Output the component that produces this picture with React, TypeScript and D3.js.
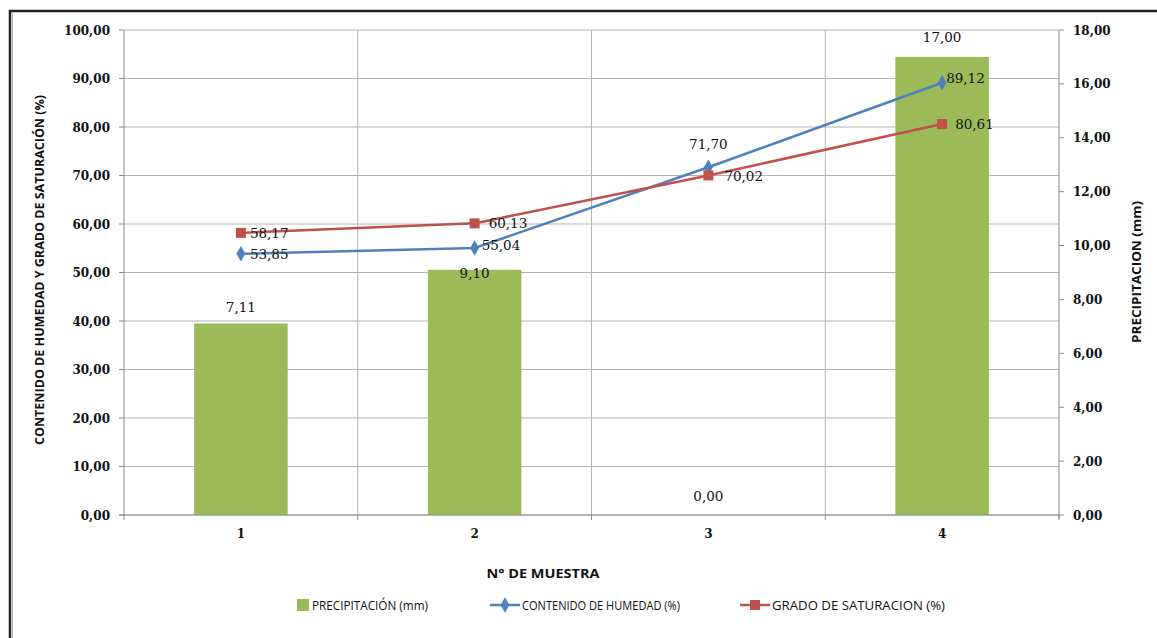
import React from "react";
import * as d3 from "d3";

const categories = ["1", "2", "3", "4"];
const precipitacion = [7.11, 9.1, 0.0, 17.0];
const humedad = [53.85, 55.04, 71.7, 89.12];
const saturacion = [58.17, 60.13, 70.02, 80.61];
const leftTicks = [0, 10, 20, 30, 40, 50, 60, 70, 80, 90, 100];
const rightTicks = [0, 2, 4, 6, 8, 10, 12, 14, 16, 18];

const W = 1157;
const H = 638;
const L = 124;
const R = 1059;
const T = 30;
const B = 515;

const GREEN = "#9BBB59";
const BLUE = "#4F81BD";
const RED = "#C0504D";
const GRID = "#b3b3b3";
const AXIS = "#8c8c8c";
const SERIF = "'DejaVu Serif', 'Liberation Serif', serif";
const SANS = "'Liberation Sans Narrow', 'Open Sans', 'Liberation Sans', sans-serif";

const fmt = (v: number) => v.toFixed(2).replace(".", ",");

export default function App() {
  const x = d3.scaleBand<string>().domain(categories).range([L, R]).paddingInner(0.6).paddingOuter(0.3);
  const xc = (c: string) => (x(c) as number) + x.bandwidth() / 2;
  const yL = d3.scaleLinear().domain([0, 100]).range([B, T]);
  const yR = d3.scaleLinear().domain([0, 18]).range([B, T]);
  const step = (R - L) / categories.length;
  const bounds = d3.range(categories.length + 1).map((i) => L + i * step);

  const line = d3
    .line<number>()
    .x((_, i) => xc(categories[i]))
    .y((d) => yL(d));

  const humLabel = [
    { dx: 9, dy: 5, anchor: "start" },
    { dx: 7, dy: 2, anchor: "start" },
    { dx: 0, dy: -18, anchor: "middle" },
    { dx: 4, dy: 0, anchor: "start" },
  ];
  const satLabel = [
    { dx: 9, dy: 5, anchor: "start" },
    { dx: 14, dy: 5, anchor: "start" },
    { dx: 16, dy: 6, anchor: "start" },
    { dx: 13, dy: 5, anchor: "start" },
  ];
  const barLabelY = [-11, 8, -14, -15];

  const diamond = d3.symbol().type(d3.symbolDiamond).size(70)();

  return (
    <svg
      width={W}
      height={H}
      style={{ position: "absolute", left: 0, top: 0, background: "#fff" }}
      xmlns="http://www.w3.org/2000/svg"
    >
      <rect x={0} y={0} width={W} height={H} fill="#fff" />
      <rect x={10} y={11} width={W + 20} height={H + 20} fill="none" stroke="#222" strokeWidth={2.5} />
      <line x1={12.5} y1={13} x2={12.5} y2={H} stroke="#bbb" strokeWidth={1} />

      {leftTicks.map((t) => (
        <line key={"h" + t} x1={L} x2={R} y1={yL(t)} y2={yL(t)} stroke={GRID} strokeWidth={1} />
      ))}
      {bounds.slice(1, -1).map((b, i) => (
        <line key={"v" + i} x1={b} x2={b} y1={T} y2={B} stroke={GRID} strokeWidth={1} />
      ))}

      {categories.map((c, i) => (
        <rect
          key={"b" + c}
          x={x(c)}
          y={yR(precipitacion[i])}
          width={x.bandwidth()}
          height={B - yR(precipitacion[i])}
          fill={GREEN}
        />
      ))}

      <line x1={L} x2={L} y1={T} y2={B} stroke={AXIS} />
      <line x1={R} x2={R} y1={T} y2={B + 4} stroke={AXIS} />
      <line x1={L - 5} x2={R} y1={B} y2={B} stroke={AXIS} />
      {leftTicks.map((t) => (
        <line key={"lt" + t} x1={L - 5} x2={L} y1={yL(t)} y2={yL(t)} stroke={AXIS} />
      ))}
      {rightTicks.map((t) => (
        <line key={"rt" + t} x1={R} x2={R + 5} y1={yR(t)} y2={yR(t)} stroke={AXIS} />
      ))}
      {bounds.map((b, i) => (
        <line key={"xt" + i} x1={b} x2={b} y1={B} y2={B + 5} stroke={AXIS} />
      ))}

      {leftTicks.map((t) => (
        <text key={"ll" + t} x={110} y={yL(t) + 4.5} textAnchor="end" fontFamily={SERIF} fontSize={12} fontWeight="bold" fill="#111">
          {fmt(t)}
        </text>
      ))}
      {rightTicks.map((t) => (
        <text key={"rl" + t} x={1073} y={yR(t) + 4.5} textAnchor="start" fontFamily={SERIF} fontSize={12} fontWeight="bold" fill="#111">
          {fmt(t)}
        </text>
      ))}
      {categories.map((c) => (
        <text key={"xl" + c} x={xc(c)} y={538} textAnchor="middle" fontFamily={SERIF} fontSize={12} fontWeight="bold" fill="#111">
          {c}
        </text>
      ))}

      <text
        transform="translate(44,270) rotate(-90)"
        textAnchor="middle"
        fontFamily={SANS}
        fontSize={13}
        fontWeight="bold"
        fill="#111"
        textLength={350}
        lengthAdjust="spacingAndGlyphs"
      >
        CONTENIDO DE HUMEDAD Y GRADO DE SATURACIÓN (%)
      </text>
      <text
        transform="translate(1141,272) rotate(-90)"
        textAnchor="middle"
        fontFamily={SANS}
        fontSize={13}
        fontWeight="bold"
        fill="#111"
        textLength={142}
        lengthAdjust="spacingAndGlyphs"
      >
        PRECIPITACION (mm)
      </text>
      <text
        x={543}
        y={578}
        textAnchor="middle"
        fontFamily={SANS}
        fontSize={13}
        fontWeight="bold"
        fill="#111"
        textLength={113}
        lengthAdjust="spacingAndGlyphs"
      >
        N° DE MUESTRA
      </text>

      <path d={line(humedad) || ""} fill="none" stroke={BLUE} strokeWidth={2.5} />
      <path d={line(saturacion) || ""} fill="none" stroke={RED} strokeWidth={2.5} />
      {humedad.map((v, i) => (
        <path key={"hm" + i} d={diamond || ""} transform={`translate(${xc(categories[i])},${yL(v)})`} fill={BLUE} />
      ))}
      {saturacion.map((v, i) => (
        <rect key={"sm" + i} x={xc(categories[i]) - 5} y={yL(v) - 5} width={10} height={10} fill={RED} />
      ))}

      {categories.map((c, i) => (
        <text key={"bl" + c} x={xc(c)} y={yR(precipitacion[i]) + barLabelY[i]} textAnchor="middle" fontFamily={SERIF} fontSize={13.5} fill="#111">
          {fmt(precipitacion[i])}
        </text>
      ))}
      {humedad.map((v, i) => (
        <text
          key={"hl" + i}
          x={xc(categories[i]) + humLabel[i].dx}
          y={yL(v) + humLabel[i].dy}
          textAnchor={humLabel[i].anchor as any}
          fontFamily={SERIF}
          fontSize={13.5}
          fill="#111"
        >
          {fmt(v)}
        </text>
      ))}
      {saturacion.map((v, i) => (
        <text
          key={"sl" + i}
          x={xc(categories[i]) + satLabel[i].dx}
          y={yL(v) + satLabel[i].dy}
          textAnchor={satLabel[i].anchor as any}
          fontFamily={SERIF}
          fontSize={13.5}
          fill="#111"
        >
          {fmt(v)}
        </text>
      ))}

      <rect x={297} y={599} width={12} height={12} fill={GREEN} />
      <text x={312} y={610} fontFamily={SANS} fontSize={13} fill="#111" textLength={116} lengthAdjust="spacingAndGlyphs">
        PRECIPITACIÓN (mm)
      </text>
      <line x1={490} x2={520} y1={605} y2={605} stroke={BLUE} strokeWidth={2.5} />
      <path d={diamond || ""} transform="translate(505,605)" fill={BLUE} />
      <text x={522} y={610} fontFamily={SANS} fontSize={13} fill="#111" textLength={158} lengthAdjust="spacingAndGlyphs">
        CONTENIDO DE HUMEDAD (%)
      </text>
      <line x1={740} x2={770} y1={605} y2={605} stroke={RED} strokeWidth={2.5} />
      <rect x={750} y={600} width={10} height={10} fill={RED} />
      <text x={772} y={610} fontFamily={SANS} fontSize={13} fill="#111" textLength={173} lengthAdjust="spacingAndGlyphs">
        GRADO DE SATURACION (%)
      </text>
    </svg>
  );
}
